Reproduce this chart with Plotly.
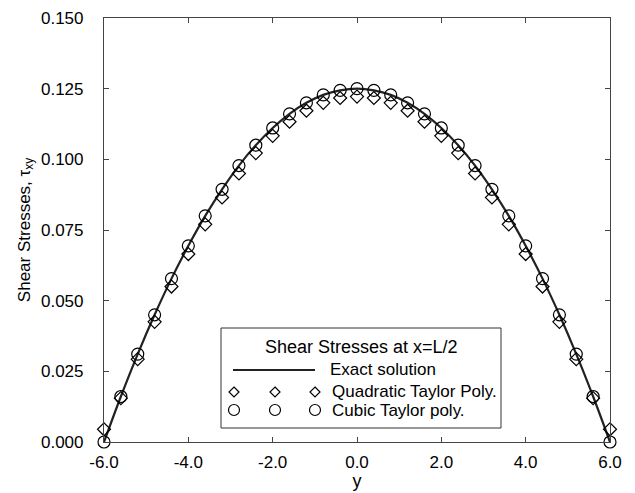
import plotly.graph_objects as go

# ---- data ----
y_pos = [-6.0, -5.6, -5.2, -4.8, -4.4, -4.0, -3.6, -3.2, -2.8, -2.4, -2.0, -1.6, -1.2, -0.8, -0.4,
         0.0, 0.4, 0.8, 1.2, 1.6, 2.0, 2.4, 2.8, 3.2, 3.6, 4.0, 4.4, 4.8, 5.2, 5.6, 6.0]
exact = [0.0, 0.0161, 0.0311, 0.0450, 0.0578, 0.0694, 0.0800, 0.0894, 0.0978, 0.1050, 0.1111,
         0.1161, 0.1200, 0.1228, 0.1244, 0.1250, 0.1244, 0.1228, 0.1200, 0.1161, 0.1111, 0.1050,
         0.0978, 0.0894, 0.0800, 0.0694, 0.0578, 0.0450, 0.0311, 0.0161, 0.0]
quadratic = [0.0045, 0.0155, 0.0293, 0.0425, 0.0550, 0.0665, 0.0770, 0.0865, 0.0950, 0.1022,
             0.1083, 0.1133, 0.1172, 0.1200, 0.1217, 0.1222, 0.1217, 0.1200, 0.1172, 0.1133,
             0.1083, 0.1022, 0.0950, 0.0865, 0.0770, 0.0665, 0.0550, 0.0425, 0.0293, 0.0155, 0.0045]
cubic = [0.0, 0.0161, 0.0311, 0.0450, 0.0578, 0.0694, 0.0800, 0.0894, 0.0978, 0.1050, 0.1111,
         0.1161, 0.1200, 0.1228, 0.1244, 0.1250, 0.1244, 0.1228, 0.1200, 0.1161, 0.1111, 0.1050,
         0.0978, 0.0894, 0.0800, 0.0694, 0.0578, 0.0450, 0.0311, 0.0161, 0.0]
x_ticks = [-6.0, -4.0, -2.0, 0.0, 2.0, 4.0, 6.0]
x_tick_labels = ["-6.0", "-4.0", "-2.0", "0.0", "2.0", "4.0", "6.0"]
y_ticks = [0.0, 0.025, 0.05, 0.075, 0.1, 0.125, 0.15]
y_tick_labels = ["0.000", "0.025", "0.050", "0.075", "0.100", "0.125", "0.150"]

legend_title = "Shear Stresses at x=L/2"
legend_names = ["Exact solution", "Quadratic Taylor Poly.", "Cubic Taylor poly."]

FONT = "Liberation Sans, Arial, sans-serif"

fig = go.Figure()
fig.add_trace(go.Scatter(x=y_pos, y=exact, mode="lines", line=dict(color="#222", width=2.2, shape="spline"),
                         name=legend_names[0], showlegend=False, cliponaxis=False))
fig.add_trace(go.Scatter(x=y_pos, y=quadratic, mode="markers", name=legend_names[1], showlegend=False,
                         cliponaxis=False,
                         marker=dict(symbol="diamond-open", size=10, color="black", line=dict(width=1.2))))
fig.add_trace(go.Scatter(x=y_pos, y=cubic, mode="markers", name=legend_names[2], showlegend=False,
                         cliponaxis=False,
                         marker=dict(symbol="circle-open", size=12, color="black", line=dict(width=1.2))))

# ---- page geometry (the page body has an 8px margin) ----
OFF = 8
FIG_W, FIG_H = 635 - OFF, 493 - OFF
L, R, T, B = 104, 610, 18, 442          # plot area in window pixels
W, H = R - L, B - T
def px(x):
    return (x - L) / W
def py(y):
    return (B - y) / H

shapes = []
shapes.append(dict(type="rect", xref="paper", yref="paper", x0=px(221), x1=px(501), y0=py(428), y1=py(328),
                   line=dict(color="#333", width=1), fillcolor="white", layer="above"))
shapes.append(dict(type="line", xref="paper", yref="paper", x0=px(233), x1=px(315), y0=py(370), y1=py(370),
                   line=dict(color="#222", width=2.2), layer="above"))
for cx in (234, 275, 315):
    cy = 392
    d = 5
    path = (f"M {px(cx)},{py(cy - d)} L {px(cx + d)},{py(cy)} L {px(cx)},{py(cy + d)} "
            f"L {px(cx - d)},{py(cy)} Z")
    shapes.append(dict(type="path", xref="paper", yref="paper", path=path,
                       line=dict(color="black", width=1.2), layer="above"))
    cy2 = 410
    r = 5.5
    shapes.append(dict(type="circle", xref="paper", yref="paper", x0=px(cx - r), x1=px(cx + r),
                       y0=py(cy2 + r), y1=py(cy2 - r), line=dict(color="black", width=1.2), layer="above"))

annotations = [
    dict(text=legend_title, xref="paper", yref="paper", x=px(361), y=py(347), showarrow=False,
         xanchor="center", yanchor="middle", font=dict(size=18, color="black", family=FONT)),
    dict(text=legend_names[0], xref="paper", yref="paper", x=px(328), y=py(369), showarrow=False,
         xanchor="left", yanchor="middle", font=dict(size=17, color="black", family=FONT)),
    dict(text=legend_names[1], xref="paper", yref="paper", x=px(330), y=py(391), showarrow=False,
         xanchor="left", yanchor="middle", font=dict(size=17, color="black", family=FONT)),
    dict(text=legend_names[2], xref="paper", yref="paper", x=px(330), y=py(410), showarrow=False,
         xanchor="left", yanchor="middle", font=dict(size=17, color="black", family=FONT)),
]

axis_common = dict(showline=True, linecolor="#444", linewidth=1.2, mirror="ticks", ticks="inside",
                   ticklen=5, tickcolor="#444", showgrid=False, zeroline=False, automargin=False,
                   ticklabeloverflow="allow",
                   tickfont=dict(size=17, color="black", family=FONT))

fig.update_layout(
    template="none",
    width=FIG_W, height=FIG_H,
    margin=dict(l=L - OFF, r=635 - R, t=T - OFF, b=493 - B),
    paper_bgcolor="white", plot_bgcolor="white",
    font=dict(family=FONT, color="black"),
    shapes=shapes, annotations=annotations,
    xaxis=dict(range=[-6, 6], tickvals=x_ticks, ticktext=x_tick_labels, ticklabelstandoff=4,
               title=dict(text="y", font=dict(size=18, family=FONT), standoff=2), **axis_common),
    yaxis=dict(range=[0, 0.15], tickvals=y_ticks, ticktext=y_tick_labels, ticklabelstandoff=16,
               title=dict(text="Shear Stresses, τ<sub>xy</sub>", font=dict(size=17, family=FONT), standoff=6),
               **axis_common),
)

fig.write_html("out.html")
